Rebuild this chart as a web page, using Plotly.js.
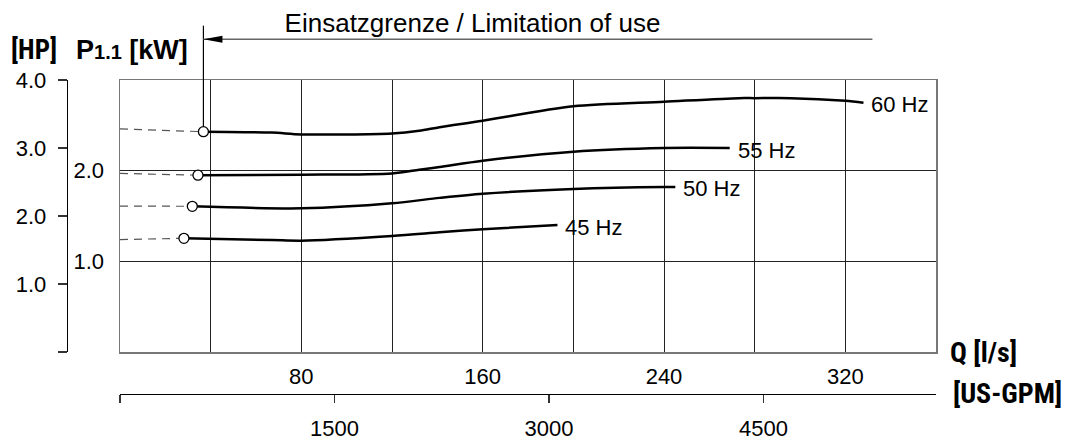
<!DOCTYPE html>
<html>
<head>
<meta charset="utf-8">
<script src="https://cdn.plot.ly/plotly-3.0.1.min.js"></script>
<style>
  html, body { margin: 0; padding: 0; background: #fff; }
  #chart { width: 1067px; height: 444px; }
</style>
</head>
<body>
<div id="chart"></div>
<script>
// ---------------- data ----------------
const seriesNames = ['60 Hz', '55 Hz', '50 Hz', '45 Hz'];
const q60 = [36.8, 67, 80, 120, 132, 141, 160, 200, 240, 273, 280, 296, 320, 328];
const p60 = [2.43, 2.42, 2.40, 2.41, 2.44, 2.48, 2.55, 2.71, 2.76, 2.80, 2.80, 2.80, 2.77, 2.75];
const q55 = [34.4, 80, 120, 132, 141, 160, 200, 240, 269];
const p55 = [1.95, 1.955, 1.97, 2.01, 2.04, 2.11, 2.21, 2.25, 2.25];
const q50 = [31.9, 80, 120, 141, 160, 200, 240, 245];
const p50 = [1.607, 1.585, 1.64, 1.70, 1.746, 1.798, 1.82, 1.82];
const q45 = [28.2, 67, 80, 120, 141, 160, 193];
const p45 = [1.254, 1.235, 1.228, 1.28, 1.32, 1.355, 1.40];
// dashed extension value at Q = 0 for each curve
const dashStartP = [2.46, 1.97, 1.61, 1.24];

const qTickVals = [40, 80, 120, 160, 200, 240, 280, 320];
const qTickText = ['', '80', '', '160', '', '240', '', '320'];
const gpmTickVals = [0, 1500, 3000, 4500];
const gpmTickText = ['', '1500', '3000', '4500'];
const kwTickVals = [1, 2];
const kwTickText = ['1.0', '2.0'];
const hpTickVals = [0, 1, 2, 3, 4];
const hpTickText = ['', '1.0', '2.0', '3.0', '4.0'];

const qMax = 360;          // l/s
const kwMax = 3;           // kW
const hpMax = 4;           // HP
const gpmPerLs = 15.8503;  // US-GPM per l/s

// ---------------- layout helpers ----------------
const W = 1067, H = 444;
const M = { l: 60, r: 131, t: 80, b: 50 };
const areaW = W - M.l - M.r, areaH = H - M.t - M.b;
const fx = px => (px - M.l) / areaW;
const fy = py => (H - M.b - py) / areaH;

const FONT = '"Liberation Sans", Arial, Helvetica, sans-serif';
const NARROW = '"Liberation Sans Narrow", "Arial Narrow", "Roboto Condensed", "Liberation Sans", Arial, sans-serif';

const qs = [q60, q55, q50, q45];
const ps = [p60, p55, p50, p45];

const traces = [];
qs.forEach((q, i) => {
  traces.push({
    x: [0, q[0]], y: [dashStartP[i], ps[i][0]], mode: 'lines',
    line: { color: '#555', width: 1.2, dash: '8px,6px' },
    hoverinfo: 'skip', showlegend: false
  });
});
qs.forEach((q, i) => {
  traces.push({
    x: q, y: ps[i], mode: 'lines', name: seriesNames[i],
    line: { color: '#000', width: 2.5, shape: 'spline', smoothing: 0.8 },
    showlegend: false
  });
});
qs.forEach((q, i) => {
  traces.push({
    x: [q[0]], y: [ps[i][0]], mode: 'markers',
    marker: { symbol: 'circle', size: 10, color: '#fff', line: { color: '#000', width: 1.3 } },
    hoverinfo: 'skip', showlegend: false
  });
});
// carrier for secondary axes (no visible marks)
traces.push({ x: [], y: [], xaxis: 'x2', yaxis: 'y2', mode: 'lines', hoverinfo: 'skip', showlegend: false });

const xDomain = [fx(120), 1];
const yDomain = [fy(352), 1];
// paper-y of a kW value (through the y axis scale)
const kwToPaper = v => yDomain[0] + (v / kwMax) * (yDomain[1] - yDomain[0]);

const annotations = [];
qs.forEach((q, i) => {
  const n = q.length - 1;
  annotations.push({
    x: q[n], y: ps[i][n], xref: 'x', yref: 'y', text: seriesNames[i],
    showarrow: false, xanchor: 'left', yanchor: 'middle', xshift: 6, yshift: -2,
    font: { family: FONT, size: 22, color: '#000' }
  });
});
const boldLabels = [
  { text: '[HP]', px: 34, py: 50, family: NARROW, size: 27 },
  { text: 'P<span style="font-size:20px">1.1</span> [kW]', px: 132, py: 50, family: FONT, size: 27 },
  { text: 'Q [l/s]', px: 983, py: 352, family: NARROW, size: 28 },
  { text: '[US-GPM]', px: 1007, py: 393, family: NARROW, size: 28 }
];
boldLabels.forEach(b => annotations.push({
  x: fx(b.px), y: fy(b.py), xref: 'paper', yref: 'paper', text: '<b>' + b.text + '</b>',
  showarrow: false, xanchor: 'center', yanchor: 'middle',
  font: { family: b.family, size: b.size, color: '#000' }
}));

const arrowY = fy(39.3);
const shapes = [
  { type: 'line', xref: 'x', x0: q60[0], x1: q60[0], yref: 'paper', ysizemode: 'pixel', yanchor: kwToPaper(p60[0]),
    y0: 5, y1: 106, line: { color: '#000', width: 1.2 } },
  { type: 'line', xref: 'x', xsizemode: 'pixel', xanchor: q60[0], x0: 0, x1: 669,
    yref: 'paper', y0: arrowY, y1: arrowY, line: { color: '#666', width: 1.5 } },
  { type: 'path', xref: 'x', xsizemode: 'pixel', xanchor: q60[0], yref: 'paper', ysizemode: 'pixel', yanchor: arrowY,
    path: 'M 0 0 L 19 3.5 L 19 -3.5 Z', fillcolor: '#000', line: { width: 0 } }
];

const layout = {
  width: W, height: H,
  margin: M,
  paper_bgcolor: '#fff', plot_bgcolor: '#fff',
  font: { family: FONT, size: 22, color: '#000' },
  showlegend: false,
  title: {
    text: 'Einsatzgrenze / Limitation of use',
    xref: 'container', yref: 'container', x: 472.5 / W, y: 1 - 23 / H,
    xanchor: 'center', yanchor: 'middle',
    font: { family: FONT, size: 26, color: '#000' }
  },
  xaxis: {
    domain: xDomain, range: [0, qMax], tickmode: 'array', tickvals: qTickVals, ticktext: qTickText,
    showgrid: true, gridcolor: '#222', gridwidth: 1, zeroline: false,
    showline: true, mirror: true, linecolor: '#777', linewidth: 1.5,
    ticks: '', ticklabelstandoff: 4, tickfont: { size: 22 }
  },
  xaxis2: {
    domain: xDomain, range: [0, qMax * gpmPerLs], overlaying: 'x', anchor: 'free', position: 0, side: 'bottom',
    tickmode: 'array', tickvals: gpmTickVals, ticktext: gpmTickText,
    showgrid: false, zeroline: false, showline: true, linecolor: '#000', linewidth: 1.3,
    ticks: 'outside', ticklen: 8, tickcolor: '#333', tickwidth: 1.3, ticklabelstandoff: 6, tickfont: { size: 22 }
  },
  yaxis: {
    domain: yDomain, range: [0, kwMax], tickmode: 'array', tickvals: kwTickVals, ticktext: kwTickText,
    showgrid: true, gridcolor: '#222', gridwidth: 1, zeroline: false,
    showline: true, mirror: true, linecolor: '#777', linewidth: 1.5,
    ticks: '', ticklabelstandoff: 10, tickfont: { size: 22 }
  },
  yaxis2: {
    domain: yDomain, range: [0, hpMax], overlaying: 'y', anchor: 'free', position: fx(66.7), side: 'left',
    tickmode: 'array', tickvals: hpTickVals, ticktext: hpTickText,
    showgrid: false, zeroline: false, showline: true, linecolor: '#000', linewidth: 1.3,
    ticks: 'outside', ticklen: 9, tickcolor: '#333', tickwidth: 1.3, ticklabelstandoff: 7, tickfont: { size: 22 }
  },
  annotations: annotations,
  shapes: shapes
};

Plotly.newPlot('chart', traces, layout, { displayModeBar: false, staticPlot: true });
</script>
</body>
</html>
